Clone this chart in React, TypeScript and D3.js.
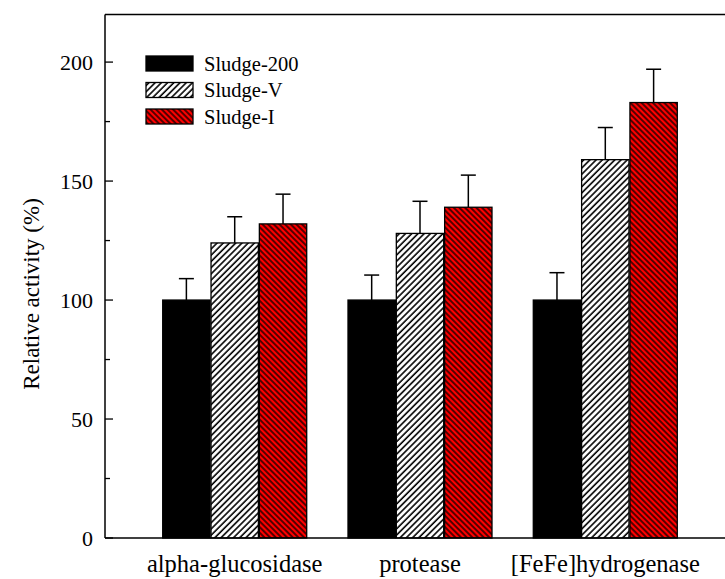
import React from "react";
import { scaleLinear, scalePoint, scaleBand } from "d3";

const categories = ["alpha-glucosidase", "protease", "[FeFe]hydrogenase"];
const seriesNames = ["Sludge-200", "Sludge-V", "Sludge-I"];
const sludge200 = [100, 100, 100];
const sludge200Err = [9, 10.5, 11.5];
const sludgeV = [124, 128, 159];
const sludgeVErr = [11, 13.5, 13.5];
const sludgeI = [132, 139, 183];
const sludgeIErr = [12.5, 13.5, 14];
const majorTicks = [0, 50, 100, 150, 200];
const minorTicks = [25, 75, 125, 175];

const values = [sludge200, sludgeV, sludgeI];
const errors = [sludge200Err, sludgeVErr, sludgeIErr];
const fills = ["#000", "url(#hatchV)", "url(#hatchI)"];

const W = 725;
const H = 579;
const left = 105;
const top = 14.5;
const bottom = 538;
const font = "Liberation Serif, Tinos, Times New Roman, Times, DejaVu Serif, serif";

const App = () => {
  const y = scaleLinear().domain([0, 220]).range([bottom, top]);
  const x = scalePoint().domain(categories).range([left, 735]).padding(0.7);
  const inner = scaleBand().domain(seriesNames).range([-72, 72]).paddingInner(0.02);
  const bw = inner.bandwidth();

  return (
    <svg width={W} height={H} style={{ position: "absolute", left: 0, top: 0, fontFamily: font }}>
      <defs>
        <pattern id="hatchV" patternUnits="userSpaceOnUse" width={4.4} height={10} patternTransform="rotate(45)">
          <rect width={4.4} height={10} fill="#fff" />
          <line x1={1} y1={0} x2={1} y2={10} stroke="#000" strokeWidth={1.6} />
        </pattern>
        <pattern id="hatchI" patternUnits="userSpaceOnUse" width={4} height={10} patternTransform="rotate(-45)">
          <rect width={4} height={10} fill="#ff0000" />
          <line x1={1} y1={0} x2={1} y2={10} stroke="#000" strokeWidth={1.35} />
        </pattern>
      </defs>

      {/* bars */}
      {categories.map((c, i) => (
        <g key={c} transform={`translate(${x(c)},0)`}>
          {seriesNames.map((s, j) => {
            const v = values[j][i];
            const e = errors[j][i];
            const bx = inner(s) as number;
            const cx = bx + bw / 2;
            return (
              <g key={s}>
                <line x1={cx} x2={cx} y1={y(v)} y2={y(v + e)} stroke="#000" strokeWidth={1.5} />
                <line x1={cx - 7.5} x2={cx + 7.5} y1={y(v + e)} y2={y(v + e)} stroke="#000" strokeWidth={1.5} />
                <rect x={bx} y={y(v)} width={bw} height={y(0) - y(v)} fill={fills[j]} stroke="#000" strokeWidth={1.3} />
              </g>
            );
          })}
        </g>
      ))}

      {/* frame */}
      <line x1={left} x2={left} y1={top} y2={bottom} stroke="#000" strokeWidth={1.5} />
      <line x1={left} x2={W} y1={bottom} y2={bottom} stroke="#000" strokeWidth={1.5} />
      <line x1={left} x2={W} y1={top} y2={top} stroke="#000" strokeWidth={1.5} />

      {/* y ticks */}
      {majorTicks.map((t) => (
        <g key={t}>
          <line x1={left} x2={left + 8} y1={y(t)} y2={y(t)} stroke="#000" strokeWidth={1.3} />
          <text x={93} y={y(t)} dy="0.35em" textAnchor="end" fontSize={22}>
            {t}
          </text>
        </g>
      ))}
      {minorTicks.map((t) => (
        <line key={t} x1={left} x2={left + 5} y1={y(t)} y2={y(t)} stroke="#000" strokeWidth={1.3} />
      ))}

      {/* y label */}
      <text transform="translate(39,294) rotate(-90)" textAnchor="middle" fontSize={23}>
        Relative activity (%)
      </text>

      {/* category labels */}
      {categories.map((c) => (
        <text key={c} x={x(c)} y={572} textAnchor="middle" fontSize={24.5}>
          {c}
        </text>
      ))}

      {/* legend */}
      {seriesNames.map((s, j) => {
        const ly = 56 + j * 26.5;
        return (
          <g key={s}>
            <rect x={146} y={ly} width={47} height={15} fill={fills[j]} stroke="#000" strokeWidth={1.3} />
            <text x={204} y={ly + 7.5} dy="0.35em" fontSize={20.5}>
              {s}
            </text>
          </g>
        );
      })}
    </svg>
  );
};

export default App;
